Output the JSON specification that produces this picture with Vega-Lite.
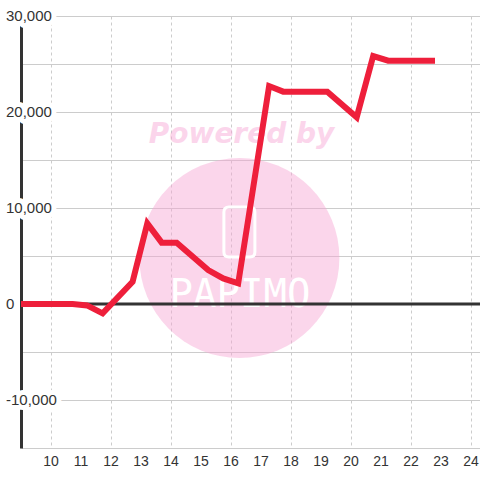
{
  "$schema": "https://vega.github.io/schema/vega-lite/v6.json",
  "width": 459,
  "height": 432,
  "autosize": {"type": "none"},
  "padding": {"left": 21, "top": 16, "right": 0, "bottom": 32},
  "background": "white",
  "config": {
    "view": {"stroke": null},
    "font": "Liberation Sans",
    "axisX": {
      "grid": true,
      "gridColor": "#cccccc",
      "gridDash": [3, 3],
      "gridWidth": 1,
      "domain": false,
      "ticks": false,
      "labels": false
    },
    "axisY": {
      "grid": true,
      "gridColor": "#cccccc",
      "gridWidth": 1,
      "labels": false,
      "ticks": false,
      "domain": true,
      "domainColor": "#333333",
      "domainWidth": 3
    }
  },
  "datasets": {
    "series": [
      {"hour": 9.0, "value": 0},
      {"hour": 10.72, "value": 0},
      {"hour": 11.2, "value": -150},
      {"hour": 11.72, "value": -970},
      {"hour": 12.72, "value": 2320},
      {"hour": 13.21, "value": 8400},
      {"hour": 13.69, "value": 6390},
      {"hour": 14.19, "value": 6390},
      {"hour": 15.24, "value": 3540},
      {"hour": 15.74, "value": 2670},
      {"hour": 16.24, "value": 2150},
      {"hour": 17.27, "value": 22700},
      {"hour": 17.74, "value": 22120},
      {"hour": 19.21, "value": 22120},
      {"hour": 20.19, "value": 19450},
      {"hour": 20.74, "value": 25830},
      {"hour": 21.24, "value": 25350},
      {"hour": 22.8, "value": 25350}
    ],
    "ticks": [
      {"v": 30000, "label": "30,000"},
      {"v": 20000, "label": "20,000"},
      {"v": 10000, "label": "10,000"},
      {"v": 0, "label": "0"},
      {"v": -10000, "label": "-10,000"}
    ],
    "xticks": [
      {"h": 10}, {"h": 11}, {"h": 12}, {"h": 13}, {"h": 14}, {"h": 15}, {"h": 16}, {"h": 17},
      {"h": 18}, {"h": 19}, {"h": 20}, {"h": 21}, {"h": 22}, {"h": 23}, {"h": 24}
    ]
  },
  "layer": [
    {
      "data": {"values": [{}]},
      "mark": {"type": "point", "filled": true, "shape": "circle", "color": "#f7a3d3", "opacity": 0.45, "size": 40000},
      "encoding": {
        "x": {
          "datum": 16.28,
          "type": "quantitative",
          "scale": {"domain": [9, 24.3], "nice": false, "zero": false},
          "axis": {
            "title": null,
            "values": [10, 11, 12, 13, 14, 15, 16, 17, 18, 19, 20, 21, 22, 23, 24]
          }
        },
        "y": {
          "datum": 4792,
          "type": "quantitative",
          "scale": {"domain": [-15000, 30000], "nice": false, "zero": false},
          "axis": {
            "title": null,
            "values": [-15000, -10000, -5000, 0, 5000, 10000, 15000, 20000, 25000, 30000]
          }
        }
      }
    },
    {
      "data": {"values": [{"t": "Powered by"}]},
      "mark": {"type": "text", "font": "DejaVu Sans", "fontWeight": "bold", "fontStyle": "italic", "fontSize": 28, "align": "center", "baseline": "alphabetic", "color": "#f7a3d3", "opacity": 0.45},
      "encoding": {
        "x": {"datum": 16.35, "type": "quantitative"},
        "y": {"datum": 16770, "type": "quantitative"},
        "text": {"field": "t"}
      }
    },
    {
      "data": {"values": [{"t": "PAPIMO"}]},
      "mark": {"type": "text", "font": "DejaVu Sans Mono", "fontSize": 39, "align": "center", "baseline": "alphabetic", "color": "white"},
      "encoding": {
        "x": {"datum": 16.3, "type": "quantitative"},
        "y": {"datum": -312, "type": "quantitative"},
        "text": {"field": "t"}
      }
    },
    {
      "data": {"values": [{}]},
      "mark": {"type": "point", "filled": false, "shape": "M-0.42,-1H0.42Q0.62,-1 0.62,-0.8V0.8Q0.62,1 0.42,1H-0.42Q-0.62,1 -0.62,0.8V-0.8Q-0.62,-1 -0.42,-1Z", "stroke": "white", "strokeWidth": 3, "opacity": 1, "size": 2500},
      "encoding": {
        "x": {"datum": 16.28, "type": "quantitative"},
        "y": {"datum": 7500, "type": "quantitative"}
      }
    },
    {
      "data": {"values": [{}]},
      "mark": {"type": "rule", "color": "#333333", "strokeWidth": 3},
      "encoding": {
        "y": {"datum": 0, "type": "quantitative"}
      }
    },
    {
      "data": {"name": "ticks"},
      "mark": {"type": "text", "align": "left", "baseline": "middle", "dx": -15, "fontSize": 15, "fill": "white", "stroke": "white", "strokeWidth": 10, "strokeJoin": "round"},
      "encoding": {
        "x": {"datum": 9, "type": "quantitative"},
        "y": {"field": "v", "type": "quantitative"},
        "text": {"field": "label"}
      }
    },
    {
      "data": {"name": "ticks"},
      "mark": {"type": "text", "align": "left", "baseline": "middle", "dx": -15, "fontSize": 15, "fill": "#333333"},
      "encoding": {
        "x": {"datum": 9, "type": "quantitative"},
        "y": {"field": "v", "type": "quantitative"},
        "text": {"field": "label"}
      }
    },
    {
      "data": {"name": "xticks"},
      "mark": {"type": "text", "align": "center", "baseline": "middle", "dy": 14, "fontSize": 14, "fill": "#333333"},
      "encoding": {
        "x": {"field": "h", "type": "quantitative"},
        "y": {"datum": -15000, "type": "quantitative"},
        "text": {"field": "h", "type": "quantitative", "format": "d"}
      }
    },
    {
      "data": {"name": "series"},
      "mark": {"type": "line", "color": "#ee1f3b", "strokeWidth": 6, "strokeJoin": "miter", "strokeCap": "butt"},
      "encoding": {
        "x": {"field": "hour", "type": "quantitative"},
        "y": {"field": "value", "type": "quantitative"}
      }
    }
  ]
}
